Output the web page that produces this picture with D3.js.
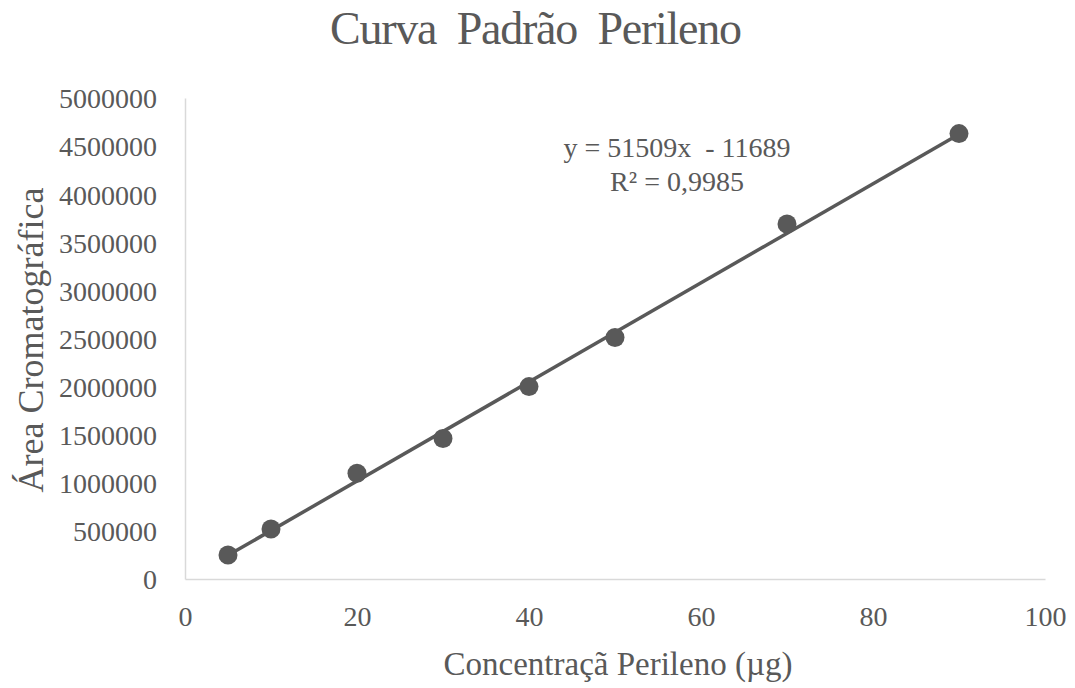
<!DOCTYPE html>
<html>
<head>
<meta charset="utf-8">
<script src="https://cdn.jsdelivr.net/npm/d3@7"></script>
<style>
  html, body { margin: 0; padding: 0; background: #fff; }
  svg text { font-family: "Liberation Serif", "Times New Roman", serif; fill: #595959; }
</style>
</head>
<body>
<svg id="chart" width="1075" height="688"></svg>
<script>
// Perylene calibration curve: concentration (µg) vs chromatographic area
const concentration = [5, 10, 20, 30, 40, 50, 70, 90];
const area = [250000, 520000, 1100000, 1460000, 2000000, 2510000, 3690000, 4630000];
const xTicks = [0, 20, 40, 60, 80, 100];
const yTicks = [0, 500000, 1000000, 1500000, 2000000, 2500000, 3000000, 3500000, 4000000, 4500000, 5000000];
// Linear fit reported on the chart
const slope = 51509;
const intercept = -11689;
const equationLines = ["y = 51509x  - 11689", "R² = 0,9985"];

const svg = d3.select("#chart");
const margin = { left: 185, right: 30, top: 98, bottom: 109 };
const W = 1075, H = 688;

const x = d3.scaleLinear().domain([0, 100]).range([margin.left, W - margin.right]);
const y = d3.scaleLinear().domain([0, 5000000]).range([H - margin.bottom, margin.top]);

// Title
svg.append("text")
  .attr("x", 536).attr("y", 44)
  .attr("text-anchor", "middle")
  .attr("font-size", 46)
  .attr("textLength", 412)
  .attr("lengthAdjust", "spacing")
  .style("white-space", "pre")
  .text("Curva  Padrão  Perileno");

// Axes
const xAxis = svg.append("g")
  .attr("transform", `translate(0,${y(0)})`)
  .call(d3.axisBottom(x).tickValues(xTicks).tickSize(0).tickPadding(27));
const yAxis = svg.append("g")
  .attr("transform", `translate(${x(0)},0)`)
  .call(d3.axisLeft(y).tickValues(yTicks).tickSize(0).tickPadding(28).tickFormat(d3.format("d")));

[xAxis, yAxis].forEach(g => {
  g.select(".domain").attr("stroke", "#d9d9d9").attr("stroke-width", 1.5);
  g.selectAll("text").attr("font-size", 28).attr("fill", "#595959")
    .style("font-family", "'Liberation Serif', 'Times New Roman', serif");
});
yAxis.selectAll("text").attr("dy", "0.35em");

// Axis titles
svg.append("text")
  .attr("x", 618).attr("y", 675)
  .attr("text-anchor", "middle")
  .attr("font-size", 33)
  .text("Concentraçã Perileno (µg)");

svg.append("text")
  .attr("transform", `translate(43,340) rotate(-90)`)
  .attr("text-anchor", "middle")
  .attr("font-size", 36)
  .text("Área Cromatográfica");

// Trendline over the data range
const xMin = d3.min(concentration), xMax = d3.max(concentration);
svg.append("line")
  .attr("x1", x(xMin)).attr("y1", y(slope * xMin + intercept))
  .attr("x2", x(xMax)).attr("y2", y(slope * xMax + intercept))
  .attr("stroke", "#595959").attr("stroke-width", 3.5);

// Data points
svg.append("g").selectAll("circle")
  .data(concentration.map((c, i) => [c, area[i]]))
  .join("circle")
  .attr("cx", d => x(d[0]))
  .attr("cy", d => y(d[1]))
  .attr("r", 9.5)
  .attr("fill", "#595959");

// Equation label
const eq = svg.append("text")
  .attr("text-anchor", "middle")
  .attr("font-size", 28)
  .style("white-space", "pre");
eq.selectAll("tspan").data(equationLines).join("tspan")
  .attr("x", 677)
  .attr("y", (d, i) => 157 + i * 34)
  .text(d => d);
</script>
</body>
</html>
